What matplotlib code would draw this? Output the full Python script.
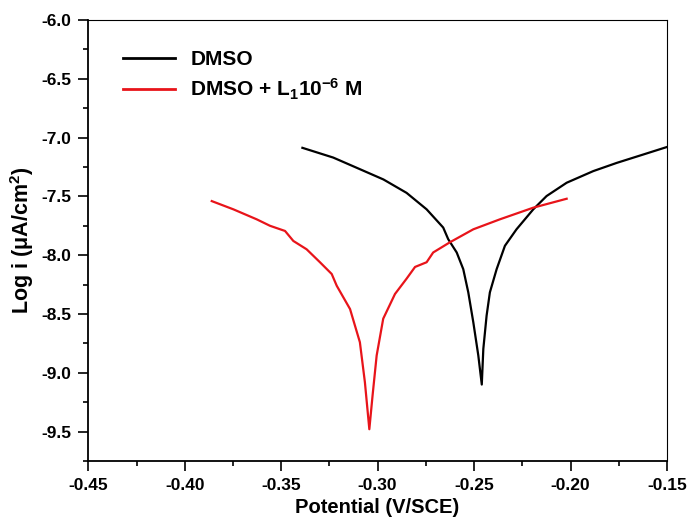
import matplotlib
matplotlib.use("Agg")
import matplotlib.pyplot as plt
from matplotlib.ticker import MultipleLocator, FormatStrFormatter

plt.rcParams['font.family'] = ['Liberation Sans', 'DejaVu Sans']
plt.rcParams['font.weight'] = 'bold'
plt.rcParams['axes.unicode_minus'] = False
plt.rcParams['mathtext.fontset'] = 'custom'
plt.rcParams['mathtext.rm'] = 'Liberation Sans:bold'
plt.rcParams['mathtext.it'] = 'Liberation Sans:bold'
plt.rcParams['mathtext.bf'] = 'Liberation Sans:bold'
plt.rcParams['mathtext.default'] = 'rm'

# DMSO (black)
dmso_x = [-0.339, -0.323, -0.309, -0.297, -0.285, -0.2746, -0.266, -0.2634,
          -0.259, -0.2556, -0.253, -0.2504, -0.2478, -0.246,
          -0.2452, -0.2435, -0.2418, -0.2383, -0.234, -0.228, -0.2193,
          -0.2124, -0.202, -0.1882, -0.176, -0.1623, -0.150]
dmso_y = [-7.087, -7.17, -7.27, -7.356, -7.47, -7.61, -7.765, -7.864,
          -7.977, -8.119, -8.316, -8.57, -8.853, -9.10,
          -8.797, -8.514, -8.316, -8.119, -7.92, -7.78, -7.61,
          -7.497, -7.384, -7.285, -7.215, -7.144, -7.08]

# DMSO + L1 1e-6 M (red)
l1_x = [-0.386, -0.3748, -0.3627, -0.3558, -0.348, -0.3437, -0.3368, -0.3299,
        -0.3238, -0.3212, -0.3143, -0.3092, -0.3066, -0.3043,
        -0.3026, -0.3005, -0.2971, -0.291, -0.285, -0.2806, -0.2746,
        -0.2712, -0.2625, -0.2504, -0.2366, -0.2193, -0.202]
l1_y = [-7.54, -7.61, -7.695, -7.75, -7.794, -7.879, -7.95, -8.06,
        -8.16, -8.26, -8.458, -8.74, -9.08, -9.48,
        -9.19, -8.853, -8.54, -8.33, -8.2, -8.10, -8.06,
        -7.977, -7.89, -7.78, -7.695, -7.596, -7.52]

labels = ["DMSO", r"DMSO + L$_1$10$^{-6}$ M"]
colors = ["black", "#e8141a"]

fig = plt.figure(figsize=(6.92, 5.22), dpi=100)
ax = fig.add_axes([0.1276, 0.1169, 0.8362, 0.8448])

ax.plot(dmso_x, dmso_y, color=colors[0], lw=1.6, label=labels[0])
ax.plot(l1_x, l1_y, color=colors[1], lw=1.6, label=labels[1])

ax.set_xlim(-0.45, -0.15)
ax.set_ylim(-9.75, -6.0)
ax.xaxis.set_major_locator(MultipleLocator(0.05))
ax.xaxis.set_minor_locator(MultipleLocator(0.025))
ax.yaxis.set_major_locator(MultipleLocator(0.5))
ax.yaxis.set_minor_locator(MultipleLocator(0.25))
ax.xaxis.set_major_formatter(FormatStrFormatter('%.2f'))
ax.yaxis.set_major_formatter(FormatStrFormatter('%.1f'))

ax.tick_params(which='major', direction='out', length=7, width=1.2,
               labelsize=12.5, pad=5)
ax.tick_params(which='minor', direction='out', length=3.5, width=1.2)
ax.tick_params(top=False, right=False, which='both')
for lab in ax.get_xticklabels() + ax.get_yticklabels():
    lab.set_fontweight('bold')

ax.spines['left'].set_linewidth(1.3)
ax.spines['bottom'].set_linewidth(1.3)
ax.spines['top'].set_linewidth(0.8)
ax.spines['right'].set_linewidth(0.8)

ax.set_xlabel("Potential (V/SCE)", fontsize=14.5, fontweight='bold', labelpad=4)
ax.set_ylabel(r"Log i ($\mu$A/cm$^2$)", fontsize=15.5, fontweight='bold', labelpad=4)

leg = ax.legend(loc='upper left', bbox_to_anchor=(0.028, 0.974), frameon=False,
                prop={'size': 15, 'weight': 'bold'}, handlelength=2.5,
                handletextpad=0.72, labelspacing=0.35)
for line in leg.get_lines():
    line.set_linewidth(2.0)

fig.savefig("out.png", dpi=100)
